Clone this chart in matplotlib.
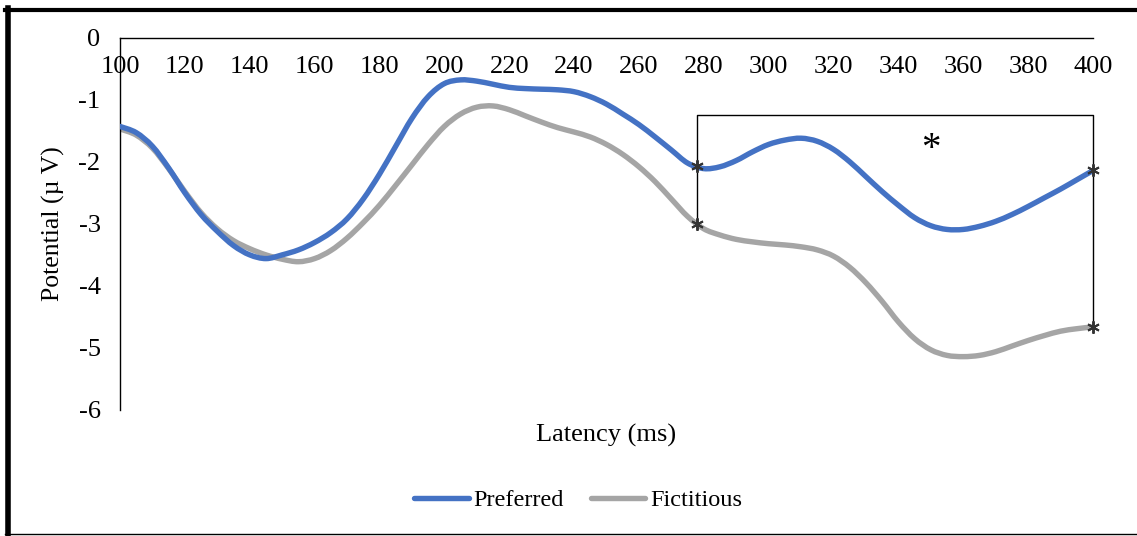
import numpy as np
import matplotlib
matplotlib.use('Agg')
import matplotlib.pyplot as pyplot
from matplotlib.lines import Line2D
from matplotlib.path import Path
from matplotlib.patches import PathPatch

# ERP waveforms, mean potential (uV) per latency step (ms)
latency = [100, 105, 110, 115, 120, 125, 130, 135, 140, 145, 150, 155, 160, 165, 170,
           175, 180, 185, 190, 195, 200, 205, 210, 215, 220, 225, 230, 235, 240, 245,
           250, 255, 260, 265, 270, 275, 280, 285, 290, 295, 300, 305, 310, 315, 320,
           325, 330, 335, 340, 345, 350, 355, 360, 365, 370, 375, 380, 385, 390, 395, 400]

preferred = [-1.43, -1.53, -1.75, -2.10, -2.50, -2.85, -3.12, -3.35, -3.50, -3.56,
             -3.50, -3.42, -3.30, -3.14, -2.92, -2.60, -2.20, -1.75, -1.30, -0.95,
             -0.74, -0.68, -0.70, -0.75, -0.80, -0.82, -0.83, -0.84, -0.87, -0.95,
             -1.07, -1.23, -1.40, -1.60, -1.81, -2.02, -2.11, -2.08, -1.98, -1.84,
             -1.72, -1.65, -1.62, -1.67, -1.80, -2.00, -2.24, -2.48, -2.70, -2.90,
             -3.03, -3.09, -3.09, -3.04, -2.96, -2.85, -2.72, -2.58, -2.44, -2.29, -2.14]

fictitious = [-1.47, -1.57, -1.78, -2.11, -2.48, -2.82, -3.08, -3.27, -3.40, -3.50,
              -3.57, -3.61, -3.56, -3.43, -3.23, -2.98, -2.70, -2.38, -2.05, -1.72,
              -1.43, -1.23, -1.12, -1.10, -1.16, -1.26, -1.36, -1.45, -1.52, -1.60,
              -1.72, -1.88, -2.08, -2.32, -2.60, -2.88, -3.08, -3.18, -3.25, -3.29,
              -3.32, -3.34, -3.37, -3.42, -3.52, -3.70, -3.95, -4.25, -4.58, -4.85,
              -5.03, -5.12, -5.14, -5.12, -5.06, -4.97, -4.88, -4.80, -4.73, -4.69, -4.66]

# significant window and bracket height
window = [278, 400]
bracket_level = -1.25
star_pos = (350, -1.80)

x_ticks = list(range(100, 401, 20))
y_ticks = [0, -1, -2, -3, -4, -5, -6]

BLUE = '#4472C4'
GREY = '#A5A5A5'


def smooth_path(xs, ys):
    # Catmull-Rom through the samples, expressed as cubic Bezier segments
    pts = np.column_stack([xs, ys]).astype(float)
    padded = np.vstack([pts[0], pts, pts[-1]])
    verts = [pts[0]]
    codes = [Path.MOVETO]
    for i in range(1, len(padded) - 2):
        p0, p1, p2, p3 = padded[i - 1], padded[i], padded[i + 1], padded[i + 2]
        verts += [p1 + (p2 - p0) / 6.0, p2 - (p3 - p1) / 6.0, p2]
        codes += [Path.CURVE4] * 3
    return Path(verts, codes)


pyplot.rcParams['font.family'] = 'Liberation Serif'
pyplot.rcParams['font.size'] = 19

fig = pyplot.figure(figsize=(11.37, 5.36), dpi=100)
ax = fig.add_axes([120 / 1137, 1 - 410 / 536, 973 / 1137, (410 - 37.7) / 536])

for values, colour, z in [(fictitious, GREY, 2), (preferred, BLUE, 3)]:
    ax.add_patch(PathPatch(smooth_path(latency, values), fill=False, edgecolor=colour,
                           linewidth=3.9, capstyle='round', joinstyle='round', zorder=z))

# bracket over the significant window
pref_ends = np.interp(window, latency, preferred)
fict_ends = np.interp(window, latency, fictitious)
ax.plot([window[0], window[0], window[1], window[1]],
        [fict_ends[0], bracket_level, bracket_level, fict_ends[1]],
        color='black', linewidth=1.0, zorder=4, clip_on=False)
ax.plot(window + window, list(pref_ends) + list(fict_ends), linestyle='none',
        marker=(6, 2, 0), markersize=9, markeredgewidth=1.4, color='#333333',
        zorder=5, clip_on=False)
ax.text(star_pos[0], star_pos[1], '*', fontsize=28, ha='center', va='center')

ax.set_xlim(100, 400)
ax.set_ylim(-6, 0)
ax.set_xticks(x_ticks)
ax.set_yticks(y_ticks)
ax.set_yticklabels([str(v) for v in y_ticks])

for spine in ['right', 'bottom']:
    ax.spines[spine].set_visible(False)
for spine in ['left', 'top']:
    ax.spines[spine].set_linewidth(1.0)
    ax.spines[spine].set_color('black')

ax.tick_params(axis='x', which='both', top=False, bottom=False, labeltop=True,
               labelbottom=False, length=0, pad=-29)
ax.tick_params(axis='y', which='both', left=False, length=0, pad=14)
ax.xaxis.set_label_position('bottom')
ax.set_xlabel('Latency (ms)', fontsize=19, labelpad=10)
ax.set_ylabel('Potential (µ V)', fontsize=18.5, labelpad=10)

handles = [Line2D([], [], color=BLUE, linewidth=3.9, solid_capstyle='round'),
           Line2D([], [], color=GREY, linewidth=3.9, solid_capstyle='round')]
fig.legend(handles, ['Preferred', 'Fictitious'], loc='center',
           bbox_to_anchor=(578 / 1137, 1 - 500 / 536), ncol=2, frameon=False,
           handlelength=2.25, handletextpad=0.2, columnspacing=1.1, fontsize=17.5)

# chart frame
fig.add_artist(Line2D([7.8 / 1137, 7.8 / 1137], [0.0, 1 - 7.5 / 536], color='black',
                      linewidth=4.0, transform=fig.transFigure))
fig.add_artist(Line2D([5 / 1137, 1.0], [1 - 10 / 536, 1 - 10 / 536], color='black',
                      linewidth=3.0, transform=fig.transFigure))
fig.add_artist(Line2D([5 / 1137, 1.0], [1 - 534 / 536, 1 - 534 / 536], color='black',
                      linewidth=1.0, transform=fig.transFigure))

fig.savefig('out.png', dpi=100)
